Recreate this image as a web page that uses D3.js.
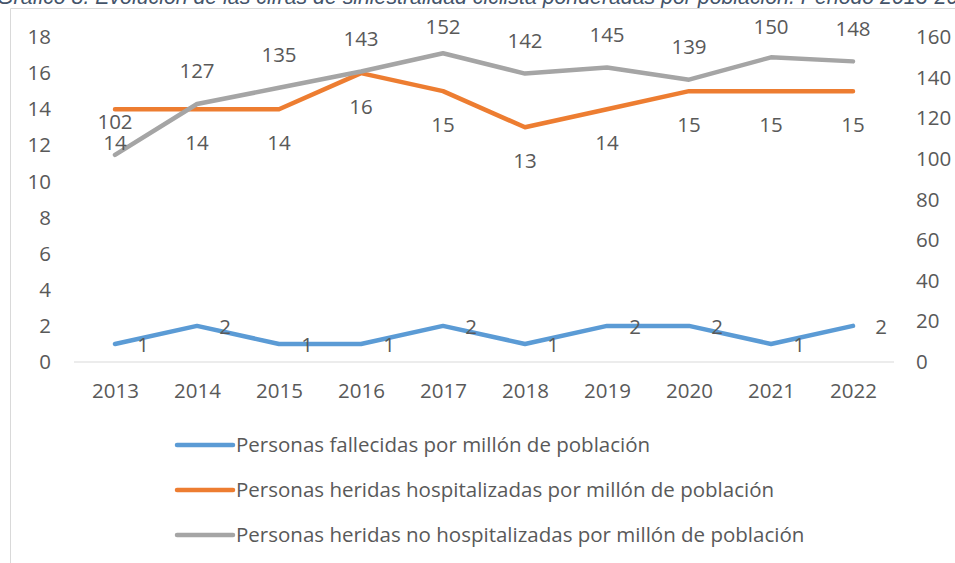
<!DOCTYPE html>
<html>
<head>
    <meta charset="utf-8">
    <title>Siniestralidad ciclista</title>
    <script src="https://d3js.org/d3.v7.min.js"></script>
    <style>
        body { margin: 0; background: #fff; }
        text { font-family: "Open Sans", Lato, sans-serif; fill: #595959; }
    </style>
</head>
<body>
    <svg width="955" height="563" id="mainSvg"></svg>
    <script>
        const years = ["2013", "2014", "2015", "2016", "2017", "2018", "2019", "2020", "2021", "2022"];
        const fallecidos = [1, 2, 1, 1, 2, 1, 2, 2, 1, 2];
        const hospitalizados = [14, 14, 14, 16, 15, 13, 14, 15, 15, 15];
        const noHospitalizados = [102, 127, 135, 143, 152, 142, 145, 139, 150, 148];
        const leftTicks = [0, 2, 4, 6, 8, 10, 12, 14, 16, 18];
        const rightTicks = [0, 20, 40, 60, 80, 100, 120, 140, 160];
        const seriesNames = [
            "Personas fallecidas por millón de población",
            "Personas heridas hospitalizadas por millón de población",
            "Personas heridas no hospitalizadas por millón de población"
        ];
        const title = "Gráfico 8. Evolución de las cifras de siniestralidad ciclista ponderadas por población. Periodo 2013-2022";

        const svg = d3.select("#mainSvg");
        const fontSize = "20.5px";

        // caption, cut off at the top of the screenshot
        svg.append("text")
            .attr("x", -3).attr("y", 4)
            .style("font-family", "'Liberation Sans', Arial, sans-serif")
            .style("font-style", "italic")
            .style("font-size", "21.3px")
            .style("fill", "#44546A")
            .text(title);

        // chart frame
        svg.append("path")
            .attr("d", "M10.5,563 V8.5 H955")
            .attr("fill", "none")
            .attr("stroke", "#d9d9d9")
            .attr("stroke-width", 1);

        const x = d3.scalePoint().domain(years).range([115, 853]);
        const yL = d3.scaleLinear().domain([0, 18]).range([362, 37]);
        const yR = d3.scaleLinear().domain([0, 160]).range([362, 37]);

        // baseline
        svg.append("line")
            .attr("x1", 74).attr("x2", 894)
            .attr("y1", yL(0)).attr("y2", yL(0))
            .attr("stroke", "#d9d9d9").attr("stroke-width", 1);

        const leftAxis = svg.append("g").attr("transform", "translate(51,0)")
            .call(d3.axisLeft(yL).tickValues(leftTicks).tickSize(0).tickPadding(0));
        const rightAxis = svg.append("g").attr("transform", "translate(916,0)")
            .call(d3.axisRight(yR).tickValues(rightTicks).tickSize(0).tickPadding(0));
        const bottomAxis = svg.append("g").attr("transform", "translate(0,391)")
            .call(d3.axisBottom(x).tickSize(0).tickPadding(0));
        [leftAxis, rightAxis, bottomAxis].forEach(a => {
            a.select(".domain").remove();
            a.selectAll("text").style("font-size", fontSize).style("fill", "#595959")
                .style("font-family", "'Open Sans', Lato, sans-serif");
        });
        bottomAxis.selectAll("text").attr("dy", "0.35em");

        const series = [
            {values: fallecidos, y: yL, color: "#5B9BD5", pos: "right"},
            {values: hospitalizados, y: yL, color: "#ED7D31", pos: "below"},
            {values: noHospitalizados, y: yR, color: "#A5A5A5", pos: "above"}
        ];

        const line = (s) => d3.line().x((d, i) => x(years[i])).y(d => s.y(d));

        series.forEach(s => {
            svg.append("path")
                .datum(s.values)
                .attr("d", line(s))
                .attr("fill", "none")
                .attr("stroke", s.color)
                .attr("stroke-width", 4.5)
                .attr("stroke-linejoin", "round")
                .attr("stroke-linecap", "round");
        });

        // data labels (labels above are kept inside the plot area)
        const labelY = (s, d) => {
            if (s.pos === "below") return s.y(d) + 34;
            if (s.pos === "above") return Math.max(27, s.y(d) - 33);
            return s.y(d) + 1;
        };
        series.forEach(s => {
            svg.append("g").selectAll("text").data(s.values).join("text")
                .attr("x", (d, i) => x(years[i]) + (s.pos === "right" ? 28 : 0))
                .attr("y", d => labelY(s, d))
                .attr("dy", "0.35em")
                .attr("text-anchor", "middle")
                .style("font-size", fontSize)
                .text(d => d);
        });

        // legend
        const legend = svg.append("g").selectAll("g").data(series).join("g")
            .attr("transform", (d, i) => `translate(0,${445 + i * 45})`);
        legend.append("line")
            .attr("x1", 177).attr("x2", 233)
            .attr("stroke", d => d.color)
            .attr("stroke-width", 4.5)
            .attr("stroke-linecap", "round");
        legend.append("text")
            .attr("x", 236).attr("dy", "0.35em")
            .style("font-size", fontSize)
            .text((d, i) => seriesNames[i]);
    </script>
</body>
</html>
